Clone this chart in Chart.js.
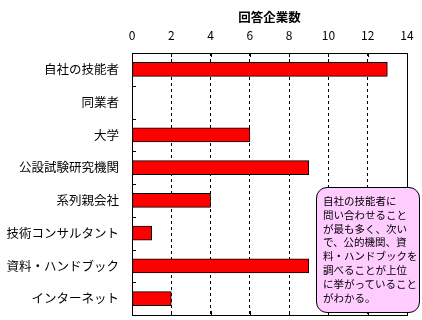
<!DOCTYPE html>
<html>
<head>
<meta charset="utf-8">
<script src="https://cdn.jsdelivr.net/npm/chart.js@4/dist/chart.umd.min.js"></script>
<style>
    html, body { margin: 0; padding: 0; background: #fff; }
    #wrap { position: relative; width: 422px; height: 320px; }
    canvas { display: block; }
    #note {
        position: absolute;
        left: 316px; top: 187px;
        width: 104px; height: 126px;
        box-sizing: border-box;
        background: #ffccff;
        border: 1px solid #000;
        border-radius: 11px;
        padding: 6px 0 0 6px;
        font-family: "Noto Sans CJK JP", sans-serif;
        font-size: 10.5px;
        line-height: 13.8px;
        white-space: nowrap;
        color: #000;
    }
</style>
</head>
<body>
<div id="wrap">
    <canvas id="companyChart" width="422" height="320"></canvas>
    <div id="note"></div>
</div>
<script>
const categories = ["自社の技能者", "同業者", "大学", "公設試験研究機関", "系列親会社",
    "技術コンサルタント", "資料・ハンドブック", "インターネット"];
const counts = [13, 0, 6, 9, 4, 1, 9, 2];
const axisTitle = "回答企業数";
const xTicks = [0, 2, 4, 6, 8, 10, 12, 14];
const noteLines = [" 自社の技能者に", "問い合わせること", "が最も多く、次い", "で、公的機関、資",
    "料・ハンドブックを", "調べることが上位", "に挙がっていること", "がわかる。"];

document.getElementById('note').innerHTML = noteLines.join('<br>');

const jpFont = '"Noto Sans CJK JP", sans-serif';

// plot frame + small inward tick marks like the original spreadsheet chart
const frameTicks = {
    id: 'frameTicks',
    afterDatasetsDraw(chart) {
        const ctx = chart.ctx;
        const a = chart.chartArea;
        const xs = chart.scales.x;
        const ys = chart.scales.y;
        ctx.save();
        ctx.strokeStyle = '#000';
        ctx.lineWidth = 1;
        ctx.setLineDash([]);
        ctx.strokeRect(Math.round(a.left) + 0.5, Math.round(a.top) + 0.5,
            Math.round(a.right - a.left), Math.round(a.bottom - a.top));
        ctx.beginPath();
        xTicks.forEach(v => {
            const px = Math.round(xs.getPixelForValue(v)) + 0.5;
            ctx.moveTo(px, a.top); ctx.lineTo(px, a.top + 4);
            ctx.moveTo(px, a.bottom); ctx.lineTo(px, a.bottom - 4);
        });
        const band = ys.getPixelForValue(1) - ys.getPixelForValue(0);
        for (let i = 0; i <= categories.length; i++) {
            const py = Math.round(ys.getPixelForValue(i) - band / 2) + 0.5;
            ctx.moveTo(a.left, py); ctx.lineTo(a.left + 4, py);
        }
        ctx.stroke();
        ctx.restore();
    }
};

const chart = new Chart(document.getElementById('companyChart'), {
    type: 'bar',
    data: {
        labels: categories,
        datasets: [{
            label: axisTitle,
            data: counts,
            backgroundColor: '#ff0000',
            borderColor: '#000',
            borderWidth: 1,
            borderSkipped: false,
            barThickness: 14
        }]
    },
    options: {
        indexAxis: 'y',
        responsive: false,
        animation: false,
        layout: { padding: { left: 0, right: 15, top: 0, bottom: 5 } },
        plugins: {
            legend: { display: false },
            tooltip: { enabled: false }
        },
        scales: {
            x: {
                position: 'top',
                min: 0,
                max: 14,
                afterFit: s => { s.height = 53; s.paddingLeft = 0; s.paddingRight = 0; },
                ticks: {
                    stepSize: 2,
                    color: '#000',
                    padding: 10,
                    font: { family: jpFont, size: 12 }
                },
                grid: { color: '#000', lineWidth: 1, drawTicks: false },
                border: { display: false, dash: [3, 3] },
                title: {
                    display: true,
                    text: axisTitle,
                    color: '#000',
                    padding: { top: 10, bottom: 0 },
                    font: { family: jpFont, size: 12.5, weight: 'bold' }
                }
            },
            y: {
                afterFit: s => { s.width = 132; s.paddingTop = 0; s.paddingBottom = 0; },
                ticks: {
                    color: '#000',
                    padding: 13,
                    font: { family: jpFont, size: 12.5 }
                },
                grid: { display: false, drawTicks: false },
                border: { display: false }
            }
        }
    },
    plugins: [frameTicks]
});
</script>
</body>
</html>
